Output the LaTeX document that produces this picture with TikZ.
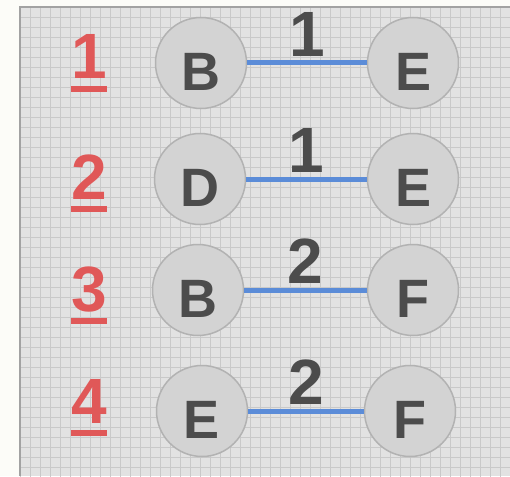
\documentclass[tikz,border=0pt]{standalone}
\usepackage{fontspec}
\setmainfont{Liberation Sans}
\usetikzlibrary{positioning}
\definecolor{paper}{HTML}{FCFCF8}
\definecolor{sheet}{HTML}{E2E2E2}
\definecolor{gridgray}{HTML}{C9C9C9}
\definecolor{framegray}{HTML}{A2A2A2}
\definecolor{vertexgray}{HTML}{D3D3D3}
\definecolor{ringgray}{HTML}{B2B2B2}
\definecolor{inkgray}{HTML}{4C4C4C}
\definecolor{rankred}{HTML}{E05858}
\definecolor{edgeblue}{HTML}{5B8CD8}

\begin{document}
\begin{tikzpicture}[x=1pt,y=-1pt,
	vertex/.style={circle,draw=ringgray,fill=vertexgray,line width=1.5pt,%
		minimum size=91pt,inner sep=0pt,text height=55pt,text depth=0pt,%
		text=inkgray,font=\fontsize{54}{54}\selectfont\bfseries},
	edge/.style={edgeblue,line width=5pt},
	weight/.style={midway,above=4pt,inner sep=0pt,text=inkgray,%
		font=\fontsize{64}{64}\selectfont\bfseries},
	rank/.style={inner sep=0pt,minimum width=36pt,text depth=10pt,anchor=base,%
		text=rankred,font=\fontsize{64}{64}\selectfont\bfseries},
	rankline/.style={rankred,line width=6.5pt}]
	\useasboundingbox[fill=paper] (0,0) rectangle (510,476);
	% sheet with grid
	\fill[sheet] (20,7) rectangle (510,476);
	\begin{scope}[shift={(20.5,7.5)}]
		\draw[gridgray,line width=0.8pt,step=10pt] (0,0) grid (490,469);
	\end{scope}
	\draw[framegray,line width=2pt] (20,476) -- (20,7) -- (510,7);
	% ranks
	\foreach \i/\y in {1/79,2/199,3/311,4/423}{
		\node[rank] (r\i) at (89,\y) {\i};
		\draw[rankline] (r\i.south west) -- (r\i.south east);
	}
	% vertices
	\node[vertex] (b1) at (201,63) {B};
	\node[vertex] (e1) at (413,63) {E};
	\node[vertex] (d2) at (200,179) {D};
	\node[vertex] (e2) at (413,179) {E};
	\node[vertex] (b3) at (198,290) {B};
	\node[vertex] (f3) at (413,290) {F};
	\node[vertex] (e4) at (202,411) {E};
	\node[vertex] (f4) at (410,411) {F};
	% edges
	\draw[edge] (b1) -- node[weight] {1} (e1);
	\draw[edge] (d2) -- node[weight] {1} (e2);
	\draw[edge] (b3) -- node[weight] {2} (f3);
	\draw[edge] (e4) -- node[weight] {2} (f4);
\end{tikzpicture}
\end{document}
